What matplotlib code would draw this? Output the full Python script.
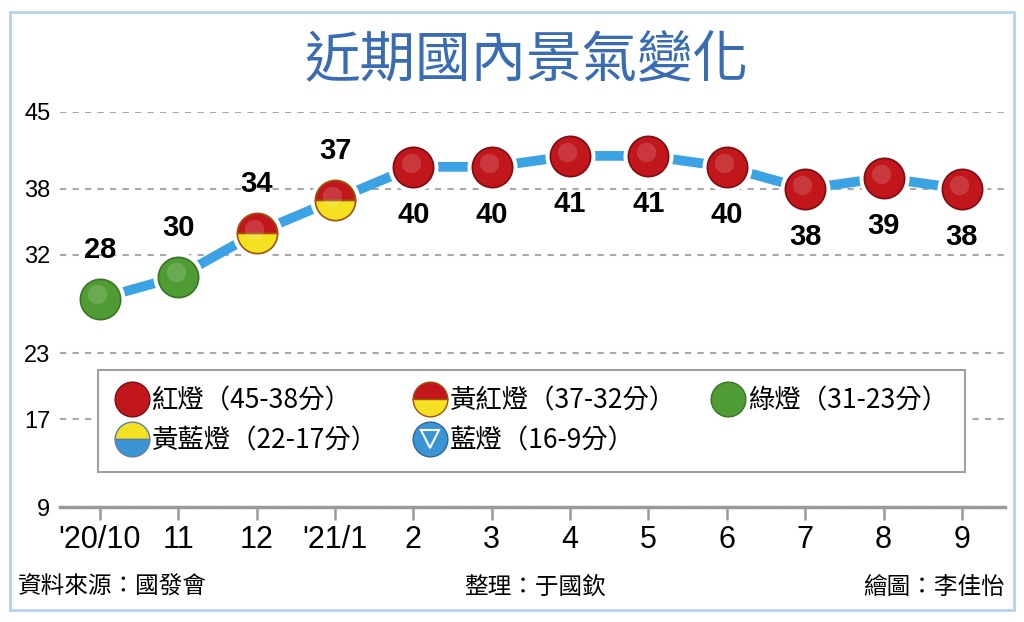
import matplotlib
matplotlib.use('Agg')
import matplotlib.pyplot as plt
import matplotlib.transforms as mtransforms
from matplotlib.lines import Line2D
from matplotlib.patches import Rectangle

# Data
months = ["'20/10", '11', '12', "'21/1", '2', '3', '4', '5', '6', '7', '8', '9']
scores = [28, 30, 34, 37, 40, 40, 41, 41, 40, 38, 39, 38]
label_above = [True, True, True, True, False, False, False, False, False, False, False, False]
y_ticks = [9, 17, 23, 32, 38, 45]

light_names = ['紅燈（45-38分）', '黃紅燈（37-32分）', '綠燈（31-23分）',
               '黃藍燈（22-17分）', '藍燈（16-9分）']

# Colours
RED = '#c0161c'
YELLOW = '#f3e122'
GREEN = '#4f9c34'
BLUE = '#3b95d5'
LINE_BLUE = '#3ba3e3'

CJK = ['Noto Sans CJK TC', 'DejaVu Sans']
NUM = ['Liberation Sans', 'DejaVu Sans']


def light_colours(s):
    # (top colour, bottom colour, edge colour)
    if s >= 38:
        return RED, RED, '#7e0c10'
    if s >= 32:
        return RED, YELLOW, '#a0520f'
    if s >= 23:
        return GREEN, GREEN, '#3a7426'
    if s >= 17:
        return YELLOW, BLUE, '#5a7ea0'
    return BLUE, BLUE, '#2a6a9a'


fig = plt.figure(figsize=(10.24, 6.22), dpi=100)
fig.patch.set_facecolor('white')

# outer light blue frame
fig.patches.append(Rectangle((10 / 1024, 1 - 610 / 622), 1004 / 1024, 598 / 622,
                             transform=fig.transFigure, fill=False,
                             ec='#b5d4ec', lw=2))

ax = fig.add_axes([60 / 1024, 1 - 507 / 622, 945 / 1024, 395 / 622])
ax.set_xlim(-0.51, 11.55)
ax.set_ylim(9, 45)

x = list(range(len(months)))

# line behind the balls
ax.plot(x, scores, color=LINE_BLUE, lw=7, zorder=2, solid_capstyle='butt')

hl = mtransforms.offset_copy(ax.transData, fig=fig, x=-2, y=3, units='points')
for i, s in enumerate(scores):
    top, bot, edge = light_colours(s)
    ax.plot(i, s, marker='o', ms=35, color='white', zorder=3)
    fs = 'full' if top == bot else 'top'
    ax.plot(i, s, marker='o', ms=29, mfc=top, mfcalt=bot, fillstyle=fs,
            mec=edge, mew=1.2, zorder=4)
    ax.plot(i, s, marker='o', ms=14, color='white', alpha=0.15, mew=0,
            transform=hl, zorder=5)
    dy = 35 if label_above[i] else -35
    ax.annotate(str(s), (i, s), xytext=(0, dy), textcoords='offset points',
                ha='center', va='center', fontsize=21, fontweight='bold',
                family=NUM, zorder=6)

# axes styling
ax.set_yticks(y_ticks)
ax.set_xticks(x)
ax.set_xticklabels(months, family=NUM, fontsize=22)
ax.set_yticklabels([str(t) for t in y_ticks], family=NUM, fontsize=17)
ax.yaxis.grid(True, linestyle=(0, (3, 3)), color='#a8a8a8', lw=1.5, zorder=0)
ax.set_axisbelow(True)
for side in ['top', 'right', 'left']:
    ax.spines[side].set_visible(False)
ax.spines['bottom'].set_color('#9a9a9a')
ax.spines['bottom'].set_linewidth(2.5)
ax.tick_params(axis='y', length=0, pad=7)
ax.tick_params(axis='x', direction='out', length=9, width=1.8,
               color='#9a9a9a', pad=4)


# legend
def ball(top, bot, edge):
    fs = 'full' if top == bot else 'top'
    return Line2D([], [], ls='none', marker='o', ms=25, mfc=top, mfcalt=bot,
                  fillstyle=fs, mec=edge, mew=1)


h_red = ball(RED, RED, '#7e0c10')
h_yr = ball(RED, YELLOW, '#a0520f')
h_green = ball(GREEN, GREEN, '#3a7426')
h_yb = ball(YELLOW, BLUE, '#5a7ea0')
h_blue = (ball(BLUE, BLUE, '#2a6a9a'),
          Line2D([], [], ls='none', marker='v', ms=13, mfc='none', mec='white', mew=1.5))

# column-major order so rows read 紅/黃紅/綠 and 黃藍/藍
handles = [h_red, h_yb, h_yr, h_blue, h_green]
labels = [light_names[0], light_names[3], light_names[1], light_names[4], light_names[2]]
leg = fig.legend(handles, labels, loc='upper left',
                 bbox_to_anchor=(98 / 1024, 1 - 470 / 622, 867 / 1024, 100 / 622),
                 mode='expand', ncol=3, prop={'family': CJK, 'size': 19},
                 frameon=True, fancybox=False, edgecolor='#a0a0a0',
                 framealpha=1, handlelength=1.3, handletextpad=0.1,
                 labelspacing=0.5, borderpad=0.65, borderaxespad=0)
leg.get_frame().set_linewidth(1.5)

# title and footer
fig.text(527 / 1024, 1 - 61 / 622, '近期國內景氣變化', ha='center', va='center',
         fontsize=40, color='#3a6cb3', fontweight='medium', family=CJK)
fig.text(18 / 1024, 1 - 587 / 622, '資料來源：國發會', ha='left', va='center',
         fontsize=17, family=CJK)
fig.text(535 / 1024, 1 - 587 / 622, '整理：于國欽', ha='center', va='center',
         fontsize=17, family=CJK)
fig.text(1005 / 1024, 1 - 587 / 622, '繪圖：李佳怡', ha='right', va='center',
         fontsize=17, family=CJK)

fig.savefig('out.png', dpi=100)
